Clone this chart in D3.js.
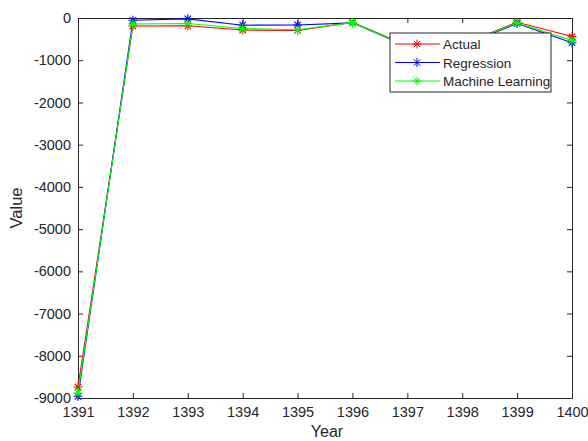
<!DOCTYPE html>
<html>
<head>
<meta charset="utf-8">
<script src="https://cdn.jsdelivr.net/npm/d3@7"></script>
<style>
body { margin: 0; background: #fff; }
text { font-family: Arial, "Liberation Sans", sans-serif; fill: #262626; }
</style>
</head>
<body>
<div id="chart"></div>
<script>
var years = [1391, 1392, 1393, 1394, 1395, 1396, 1397, 1398, 1399, 1400];
var actual = [-8740, -190, -185, -285, -295, -105, -650, -620, -100, -440];
var regression = [-8960, -55, -20, -170, -165, -115, -680, -650, -130, -585];
var machineLearning = [-8880, -142, -130, -250, -280, -110, -665, -635, -115, -535];
var yTicks = [0, -1000, -2000, -3000, -4000, -5000, -6000, -7000, -8000, -9000];

var series = [
	{ name: 'Actual', values: actual, color: '#ff0000' },
	{ name: 'Regression', values: regression, color: '#0000ff' },
	{ name: 'Machine Learning', values: machineLearning, color: '#00ff00' }
];

var width = 588, height = 441;
var margin = { top: 18, left: 78, bottom: 43, right: 16 };
var g_width = width - margin.left - margin.right;
var g_height = height - margin.top - margin.bottom;

var svg = d3.select('#chart').append('svg')
	.attr('width', width)
	.attr('height', height);
var g = svg.append('g')
	.attr('transform', 'translate(' + margin.left + ',' + margin.top + ')');

var xScale = d3.scaleLinear().domain([1391, 1400]).range([0, g_width]);
var yScale = d3.scaleLinear().domain([-9000, 0]).range([g_height, 0]);

// plain hyphen minus, like matlab
var plain = function (d) { return String(d); };

// axes, ticks pointing inward like matlab
var xAxis = d3.axisBottom(xScale).tickValues(years).tickFormat(plain)
	.tickSizeInner(-5).tickSizeOuter(0).tickPadding(9);
var yAxis = d3.axisLeft(yScale).tickValues(yTicks).tickFormat(plain)
	.tickSizeInner(-5).tickSizeOuter(0).tickPadding(7);
var xTop = d3.axisTop(xScale).tickValues(years).tickFormat('').tickSizeInner(-5).tickSizeOuter(0);
var yRight = d3.axisRight(yScale).tickValues(yTicks).tickFormat('').tickSizeInner(-5).tickSizeOuter(0);

g.append('g').attr('class', 'axis').attr('transform', 'translate(0,' + g_height + ')').call(xAxis);
g.append('g').attr('class', 'axis').call(yAxis);
g.append('g').attr('class', 'axis').call(xTop);
g.append('g').attr('class', 'axis').attr('transform', 'translate(' + g_width + ',0)').call(yRight);

g.selectAll('.axis path, .axis line').attr('stroke', '#262626').attr('stroke-width', 1);
g.selectAll('.axis text').attr('font-size', '14.5px').attr('fill', '#262626')
	.style('font-family', 'Arial, "Liberation Sans", sans-serif');

// axis labels
g.append('text')
	.text('Year')
	.attr('x', g_width / 2 + 2)
	.attr('y', g_height + 39)
	.attr('text-anchor', 'middle')
	.attr('font-size', '16px');
g.append('text')
	.text('Value')
	.attr('transform', 'translate(-56,' + (g_height / 2) + ') rotate(-90)')
	.attr('text-anchor', 'middle')
	.attr('font-size', '16.5px');

var line = d3.line()
	.x(function (d, i) { return xScale(years[i]); })
	.y(function (d) { return yScale(d); });

function star(sel, r) {
	var k = r * 0.72;
	sel.append('path')
		.attr('d', 'M' + (-r) + ',0H' + r + 'M0,' + (-r) + 'V' + r +
			'M' + (-k) + ',' + (-k) + 'L' + k + ',' + k +
			'M' + (-k) + ',' + k + 'L' + k + ',' + (-k));
}

series.forEach(function (s) {
	var sg = g.append('g');
	sg.append('path')
		.datum(s.values)
		.attr('d', line)
		.attr('fill', 'none')
		.attr('stroke', s.color)
		.attr('stroke-width', 1.1);
	sg.selectAll('.mark')
		.data(s.values)
		.enter()
		.append('g')
		.attr('class', 'mark')
		.attr('transform', function (d, i) { return 'translate(' + xScale(years[i]) + ',' + yScale(d) + ')'; })
		.attr('stroke', s.color)
		.attr('stroke-width', 1.1)
		.call(star, 4.5);
});

// legend
var legend = svg.append('g').attr('transform', 'translate(390,33)');
legend.append('rect')
	.attr('width', 161)
	.attr('height', 59)
	.attr('fill', '#fff')
	.attr('stroke', '#262626')
	.attr('stroke-width', 1);
series.forEach(function (s, i) {
	var row = legend.append('g').attr('transform', 'translate(0,' + (11 + i * 18.5) + ')');
	row.append('line')
		.attr('x1', 5).attr('x2', 50)
		.attr('stroke', s.color).attr('stroke-width', 1.1);
	row.append('g')
		.attr('transform', 'translate(27,0)')
		.attr('stroke', s.color)
		.call(star, 4.5);
	row.append('text')
		.text(s.name)
		.attr('x', 53)
		.attr('y', 5)
		.attr('font-size', '13.5px');
});
</script>
</body>
</html>
